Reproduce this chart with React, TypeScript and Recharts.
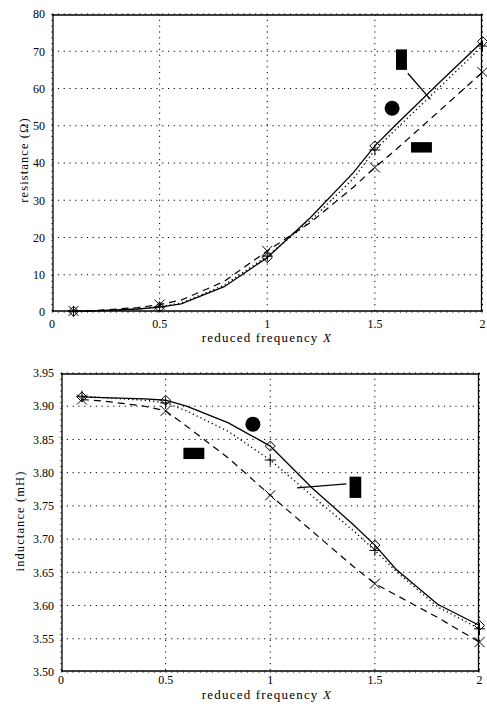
import React from 'react';
import {
  LineChart, Line, XAxis, YAxis, CartesianGrid, ReferenceArea, ReferenceDot, ReferenceLine,
} from 'recharts';

// ---------- data ----------
const X_VALUES = [0.1, 0.2, 0.4, 0.5, 0.6, 0.8, 1.0, 1.2, 1.4, 1.5, 1.6, 1.8, 2.0];
const MARK_X = [0.1, 0.5, 1.0, 1.5, 2.0];

// resistance (Ohm)
const R_SOLID = [0.2, 0.3, 0.8, 1.3, 2.2, 6.8, 14.6, 25.3, 37.4, 44.6, 50.4, 61.6, 72.6];
const R_DOTTED = [0.2, 0.3, 0.8, 1.4, 2.4, 7.2, 15.0, 24.5, 35.8, 43.5, 49.2, 60.3, 71.4];
const R_DASHED = [0.3, 0.4, 1.2, 2.0, 3.2, 8.2, 16.4, 24.0, 33.5, 38.8, 43.7, 54.0, 64.4];

// inductance (mH)
const L_SOLID = [3.914, 3.913, 3.911, 3.909, 3.900, 3.875, 3.840, 3.777, 3.721, 3.691, 3.655, 3.602, 3.570];
const L_DOTTED = [3.915, 3.913, 3.909, 3.905, 3.893, 3.862, 3.819, 3.765, 3.712, 3.683, 3.652, 3.598, 3.565];
const L_DASHED = [3.910, 3.908, 3.900, 3.893, 3.870, 3.822, 3.766, 3.712, 3.658, 3.633, 3.616, 3.582, 3.545];

const X_TICKS = [0, 0.5, 1, 1.5, 2];
const X_TICK_LABELS = ['0', '0.5', '1', '1.5', '2'];
const R_TICKS = [0, 10, 20, 30, 40, 50, 60, 70, 80];
const L_TICKS = [3.5, 3.55, 3.6, 3.65, 3.7, 3.75, 3.8, 3.85, 3.9, 3.95];
const L_TICK_LABELS = ['3.50', '3.55', '3.60', '3.65', '3.70', '3.75', '3.80', '3.85', '3.90', '3.95'];

// annotation glyph positions (data coordinates)
const R_VBAR = { x1: 1.598, x2: 1.649, y1: 65.0, y2: 70.5 };
const R_HBAR = { x1: 1.668, x2: 1.765, y1: 42.8, y2: 45.6 };
const R_DOT = { x: 1.58, y: 54.7 };
const R_LEADER = [{ x: 1.653, y: 64.1 }, { x: 1.758, y: 57.1 }];

const L_VBAR = { x1: 1.379, x2: 1.435, y1: 3.762, y2: 3.794 };
const L_HBAR = { x1: 0.585, x2: 0.685, y1: 3.8205, y2: 3.8375 };
const L_DOT = { x: 0.917, y: 3.873 };
const L_LEADER = [{ x: 1.128, y: 3.777 }, { x: 1.364, y: 3.783 }];

const build = (a: number[], b: number[], c: number[]) =>
  X_VALUES.map((x, i) => ({ x, a: a[i], b: b[i], c: c[i] }));

const R_DATA = build(R_SOLID, R_DOTTED, R_DASHED);
const L_DATA = build(L_SOLID, L_DOTTED, L_DASHED);

// ---------- styles ----------
const FONT = '"Liberation Serif", "Times New Roman", serif';
const INK = '#000';

const isMark = (x: number) => MARK_X.some((m) => Math.abs(m - x) < 1e-9);

const diamondDot = (p: any) => {
  const { cx, cy, payload, index } = p;
  if (!isMark(payload.x) || cx == null) return <g key={`d${index}`} />;
  const s = 5;
  return (
    <path key={`d${index}`} d={`M${cx},${cy - s}L${cx + s},${cy}L${cx},${cy + s}L${cx - s},${cy}Z`}
      fill="none" stroke={INK} strokeWidth={1} />
  );
};
const plusDot = (p: any) => {
  const { cx, cy, payload, index } = p;
  if (!isMark(payload.x) || cx == null) return <g key={`p${index}`} />;
  const s = 5.5;
  return (
    <path key={`p${index}`} d={`M${cx - s},${cy}L${cx + s},${cy}M${cx},${cy - s}L${cx},${cy + s}`}
      fill="none" stroke={INK} strokeWidth={1} />
  );
};
const crossDot = (p: any) => {
  const { cx, cy, payload, index } = p;
  if (!isMark(payload.x) || cx == null) return <g key={`x${index}`} />;
  const s = 5;
  return (
    <path key={`x${index}`} d={`M${cx - s},${cy - s}L${cx + s},${cy + s}M${cx - s},${cy + s}L${cx + s},${cy - s}`}
      fill="none" stroke={INK} strokeWidth={1} />
  );
};

const range = (a: number, b: number, step: number) => {
  const out: number[] = [];
  const n = Math.round((b - a) / step);
  for (let i = 0; i <= n; i++) out.push(+(a + i * step).toFixed(6));
  return out;
};

const frameAxes = (
  xDomain: [number, number], yDomain: [number, number],
  xMinor: number[], xMajor: number[], yMinor: number[], yMajor: number[],
) => {
  const line = { stroke: INK, strokeWidth: 1 };
  const frame = { stroke: INK, strokeWidth: 1.3 };
  const out: any[] = [];
  (['bottom', 'top'] as const).forEach((o) => {
    out.push(
      <XAxis key={`xm-${o}`} xAxisId={`xm-${o}`} orientation={o} mirror type="number" domain={xDomain}
        ticks={xMinor} interval={0} height={1} tick={false} tickSize={2} tickLine={line} axisLine={frame} />,
      <XAxis key={`xM-${o}`} xAxisId={`xM-${o}`} orientation={o} mirror type="number" domain={xDomain}
        ticks={xMajor} interval={0} height={1} tick={false} tickSize={5} tickLine={line} axisLine={false} />,
    );
  });
  (['left', 'right'] as const).forEach((o) => {
    out.push(
      <YAxis key={`ym-${o}`} yAxisId={`ym-${o}`} orientation={o} mirror type="number" domain={yDomain}
        ticks={yMinor} interval={0} width={1} tick={false} tickSize={2} tickLine={line} axisLine={frame} />,
      <YAxis key={`yM-${o}`} yAxisId={`yM-${o}`} orientation={o} mirror type="number" domain={yDomain}
        ticks={yMajor} interval={0} width={1} tick={false} tickSize={5} tickLine={line} axisLine={false} />,
    );
  });
  return out;
};

const tickStyle = { fontFamily: FONT, fontSize: 12, fill: INK };

const series = [
  <Line key="c" type="linear" dataKey="c" stroke={INK} strokeWidth={1.2} strokeDasharray="7 5"
    dot={crossDot} activeDot={false} isAnimationActive={false} />,
  <Line key="b" type="linear" dataKey="b" stroke={INK} strokeWidth={1.4} strokeDasharray="1.2 3"
    dot={plusDot} activeDot={false} isAnimationActive={false} />,
  <Line key="a" type="linear" dataKey="a" stroke={INK} strokeWidth={1.3}
    dot={diamondDot} activeDot={false} isAnimationActive={false} />,
];

const xTitle = (top: number, left: number) => (
  <div style={{
    position: 'absolute', top, left, width: 260, marginLeft: -130, textAlign: 'center',
    fontFamily: FONT, fontSize: 13, letterSpacing: 1.2, lineHeight: '14px', color: INK, whiteSpace: 'nowrap',
  }}>
    reduced frequency <i>X</i>
  </div>
);

const yTitle = (cx: number, cy: number, text: string) => (
  <div style={{
    position: 'absolute', left: cx, top: cy, width: 200, marginLeft: -100, marginTop: -7,
    textAlign: 'center', transform: 'rotate(-90deg)', transformOrigin: '100px 7px',
    fontFamily: FONT, fontSize: 12.5, letterSpacing: 1.1, lineHeight: '14px', color: INK, whiteSpace: 'nowrap',
  }}>
    {text}
  </div>
);

export default function App() {
  return (
    <div style={{ position: 'absolute', left: 0, top: 0, width: 487, height: 704, background: '#fff', overflow: 'hidden' }}>
      {/* Top: resistance */}
      <div style={{ position: 'absolute', left: 0, top: 0 }}>
        <LineChart width={487} height={350} data={R_DATA}
          margin={{ top: 14, left: 0, right: 4.5, bottom: 10 }}>
          <CartesianGrid stroke={INK} strokeWidth={1} strokeDasharray="1.2 4.6" />
          <XAxis type="number" dataKey="x" domain={[0, 2]} ticks={X_TICKS} interval={0}
            tickFormatter={(v: number) => X_TICK_LABELS[X_TICKS.indexOf(v)] ?? String(v)}
            axisLine={false} tickLine={false} tickSize={0} tickMargin={7} height={28} tick={tickStyle} />
          <YAxis type="number" domain={[0, 80]} ticks={R_TICKS} interval={0}
            axisLine={false} tickLine={false} tickSize={0} tickMargin={7} width={52} tick={tickStyle} />
          {frameAxes([0, 2], [0, 80], range(0, 2, 0.04), X_TICKS, range(0, 80, 2), R_TICKS)}
          {series}
          <ReferenceArea x1={R_VBAR.x1} x2={R_VBAR.x2} y1={R_VBAR.y1} y2={R_VBAR.y2} fill={INK} fillOpacity={1} stroke="none" />
          <ReferenceArea x1={R_HBAR.x1} x2={R_HBAR.x2} y1={R_HBAR.y1} y2={R_HBAR.y2} fill={INK} fillOpacity={1} stroke="none" />
          <ReferenceDot x={R_DOT.x} y={R_DOT.y} r={7.5} fill={INK} stroke="none" />
          <ReferenceLine segment={R_LEADER} stroke={INK} strokeWidth={1.3} />
        </LineChart>
      </div>
      {xTitle(331, 267)}
      {yTitle(24, 160, 'resistance (Ω)')}

      {/* Bottom: inductance */}
      <div style={{ position: 'absolute', left: 0, top: 355 }}>
        <LineChart width={487} height={349} data={L_DATA}
          margin={{ top: 18, left: 0, right: 7.5, bottom: 4 }}>
          <CartesianGrid stroke={INK} strokeWidth={1} strokeDasharray="1.2 4.6" />
          <XAxis type="number" dataKey="x" domain={[0, 2]} ticks={X_TICKS} interval={0}
            tickFormatter={(v: number) => X_TICK_LABELS[X_TICKS.indexOf(v)] ?? String(v)}
            axisLine={false} tickLine={false} tickSize={0} tickMargin={3} height={28} tick={tickStyle} />
          <YAxis type="number" domain={[3.5, 3.95]} ticks={L_TICKS} interval={0}
            tickFormatter={(v: number) => L_TICK_LABELS[L_TICKS.findIndex((t) => Math.abs(t - v) < 1e-9)] ?? String(v)}
            axisLine={false} tickLine={false} tickSize={0} tickMargin={7} width={61} tick={tickStyle} />
          {frameAxes([0, 2], [3.5, 3.95], range(0, 2, 0.04), X_TICKS, range(3.5, 3.95, 0.01), L_TICKS)}
          {series}
          <ReferenceArea x1={L_VBAR.x1} x2={L_VBAR.x2} y1={L_VBAR.y1} y2={L_VBAR.y2} fill={INK} fillOpacity={1} stroke="none" />
          <ReferenceArea x1={L_HBAR.x1} x2={L_HBAR.x2} y1={L_HBAR.y1} y2={L_HBAR.y2} fill={INK} fillOpacity={1} stroke="none" />
          <ReferenceDot x={L_DOT.x} y={L_DOT.y} r={7.5} fill={INK} stroke="none" />
          <ReferenceLine segment={L_LEADER} stroke={INK} strokeWidth={1.3} />
        </LineChart>
      </div>
      {xTitle(688, 267)}
      {yTitle(20, 521, 'inductance (mH)')}
    </div>
  );
}
